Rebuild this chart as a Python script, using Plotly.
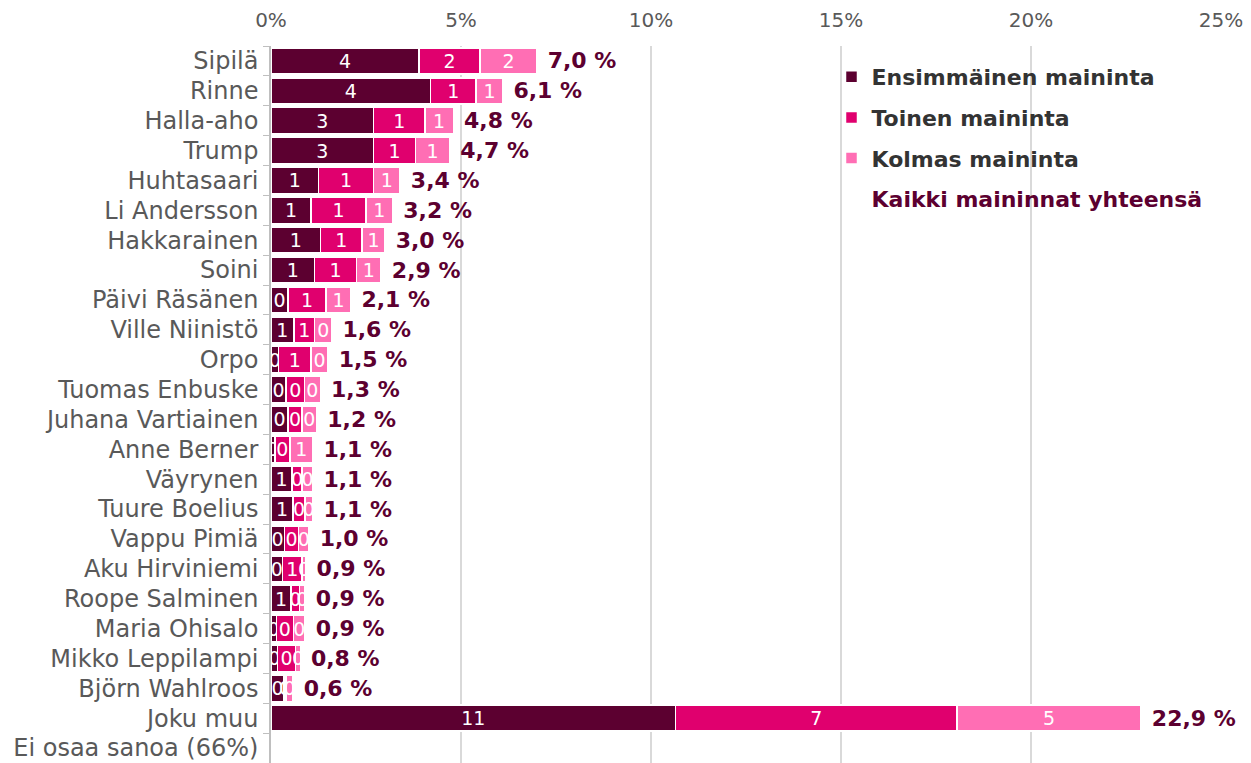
import plotly.graph_objects as go

# Data (share of respondents, %)
names = ["Sipilä", "Rinne", "Halla-aho", "Trump", "Huhtasaari", "Li Andersson",
         "Hakkarainen", "Soini", "Päivi Räsänen", "Ville Niinistö", "Orpo",
         "Tuomas Enbuske", "Juhana Vartiainen", "Anne Berner", "Väyrynen",
         "Tuure Boelius", "Vappu Pimiä", "Aku Hirviniemi", "Roope Salminen",
         "Maria Ohisalo", "Mikko Leppilampi", "Björn Wahlroos", "Joku muu",
         "Ei osaa sanoa (66%)"]
first = [3.9, 4.2, 2.7, 2.7, 1.25, 1.05, 1.3, 1.15, 0.45, 0.6, 0.2, 0.4, 0.45,
         0.1, 0.55, 0.58, 0.35, 0.3, 0.53, 0.14, 0.17, 0.34, 10.65, None]
second = [1.6, 1.2, 1.35, 1.1, 1.45, 1.45, 1.1, 1.1, 1.0, 0.55, 0.85, 0.48, 0.37,
          0.4, 0.27, 0.31, 0.38, 0.52, 0.22, 0.45, 0.48, 0.06, 7.4, None]
third = [1.5, 0.7, 0.75, 0.9, 0.7, 0.7, 0.6, 0.65, 0.65, 0.45, 0.45, 0.42, 0.38,
         0.6, 0.28, 0.21, 0.27, 0.1, 0.15, 0.31, 0.12, 0.18, 4.85, None]
totals = ["7,0 %", "6,1 %", "4,8 %", "4,7 %", "3,4 %", "3,2 %", "3,0 %", "2,9 %",
          "2,1 %", "1,6 %", "1,5 %", "1,3 %", "1,2 %", "1,1 %", "1,1 %", "1,1 %",
          "1,0 %", "0,9 %", "0,9 %", "0,9 %", "0,8 %", "0,6 %", "22,9 %", ""]
series_names = ["Ensimmäinen maininta", "Toinen maininta", "Kolmas maininta"]
colors = ["#5C0030", "#E0006E", "#FF6EB4"]

FONT = "DejaVu Sans"
fig = go.Figure()

for i, (vals, nm, col) in enumerate(zip([first, second, third], series_names, colors)):
    fig.add_trace(go.Bar(
        y=names, x=vals, name=nm, orientation="h", legendgroup=f"g{i}",
        marker=dict(color=col, line=dict(color="white", width=1.5)),
        texttemplate="%{x:.0f}", textposition="inside",
        insidetextanchor="middle", textangle=0, constraintext="none",
        textfont=dict(family=FONT, size=19, color="white"),
    ))

# total labels sit at the end of each stack
fig.add_trace(go.Bar(
    y=names, x=[1e-6 if t else None for t in totals], orientation="h",
    name='<span style="color:#5C0030">Kaikki maininnat yhteensä</span>',
    legendgroup="g3",
    marker=dict(color="rgba(0,0,0,0)", line=dict(width=0)),
    text=["\u00a0" + t for t in totals], textposition="outside",
    constraintext="none", cliponaxis=False,
    textfont=dict(family=FONT, size=22, color="#5C0030", weight="bold"),
))

# page body adds 8px margin, so figure is slightly smaller than the window
fig.update_layout(
    width=1243, height=755,
    barmode="stack", bargap=0.13,
    plot_bgcolor="white", paper_bgcolor="white",
    margin=dict(l=263, r=30, t=38, b=0),
    font=dict(family=FONT, size=22, color="#595959"),
    showlegend=True,
    legend=dict(x=0.59, y=0.986, xanchor="left", yanchor="top",
                traceorder="grouped", tracegroupgap=9,
                bgcolor="rgba(0,0,0,0)",
                font=dict(family=FONT, size=22, color="#333333", weight="bold")),
    xaxis=dict(range=[0, 25], side="top", dtick=5, ticksuffix="%",
               showgrid=True, gridcolor="#D9D9D9", gridwidth=1.5,
               zeroline=False, showline=False, automargin=False,
               ticklabeloverflow="allow",
               ticks="outside", ticklen=10, tickcolor="rgba(0,0,0,0)",
               tickfont=dict(size=20, color="#595959")),
    yaxis=dict(autorange="reversed", type="category", automargin=False,
               showline=True, linecolor="#BFBFBF", linewidth=1.5,
               ticks="outside", tickson="boundaries", ticklen=6,
               ticklabelstandoff=6,
               tickcolor="#BFBFBF", showgrid=False,
               tickfont=dict(size=24, color="#595959")),
)

fig.write_html("out.html")
